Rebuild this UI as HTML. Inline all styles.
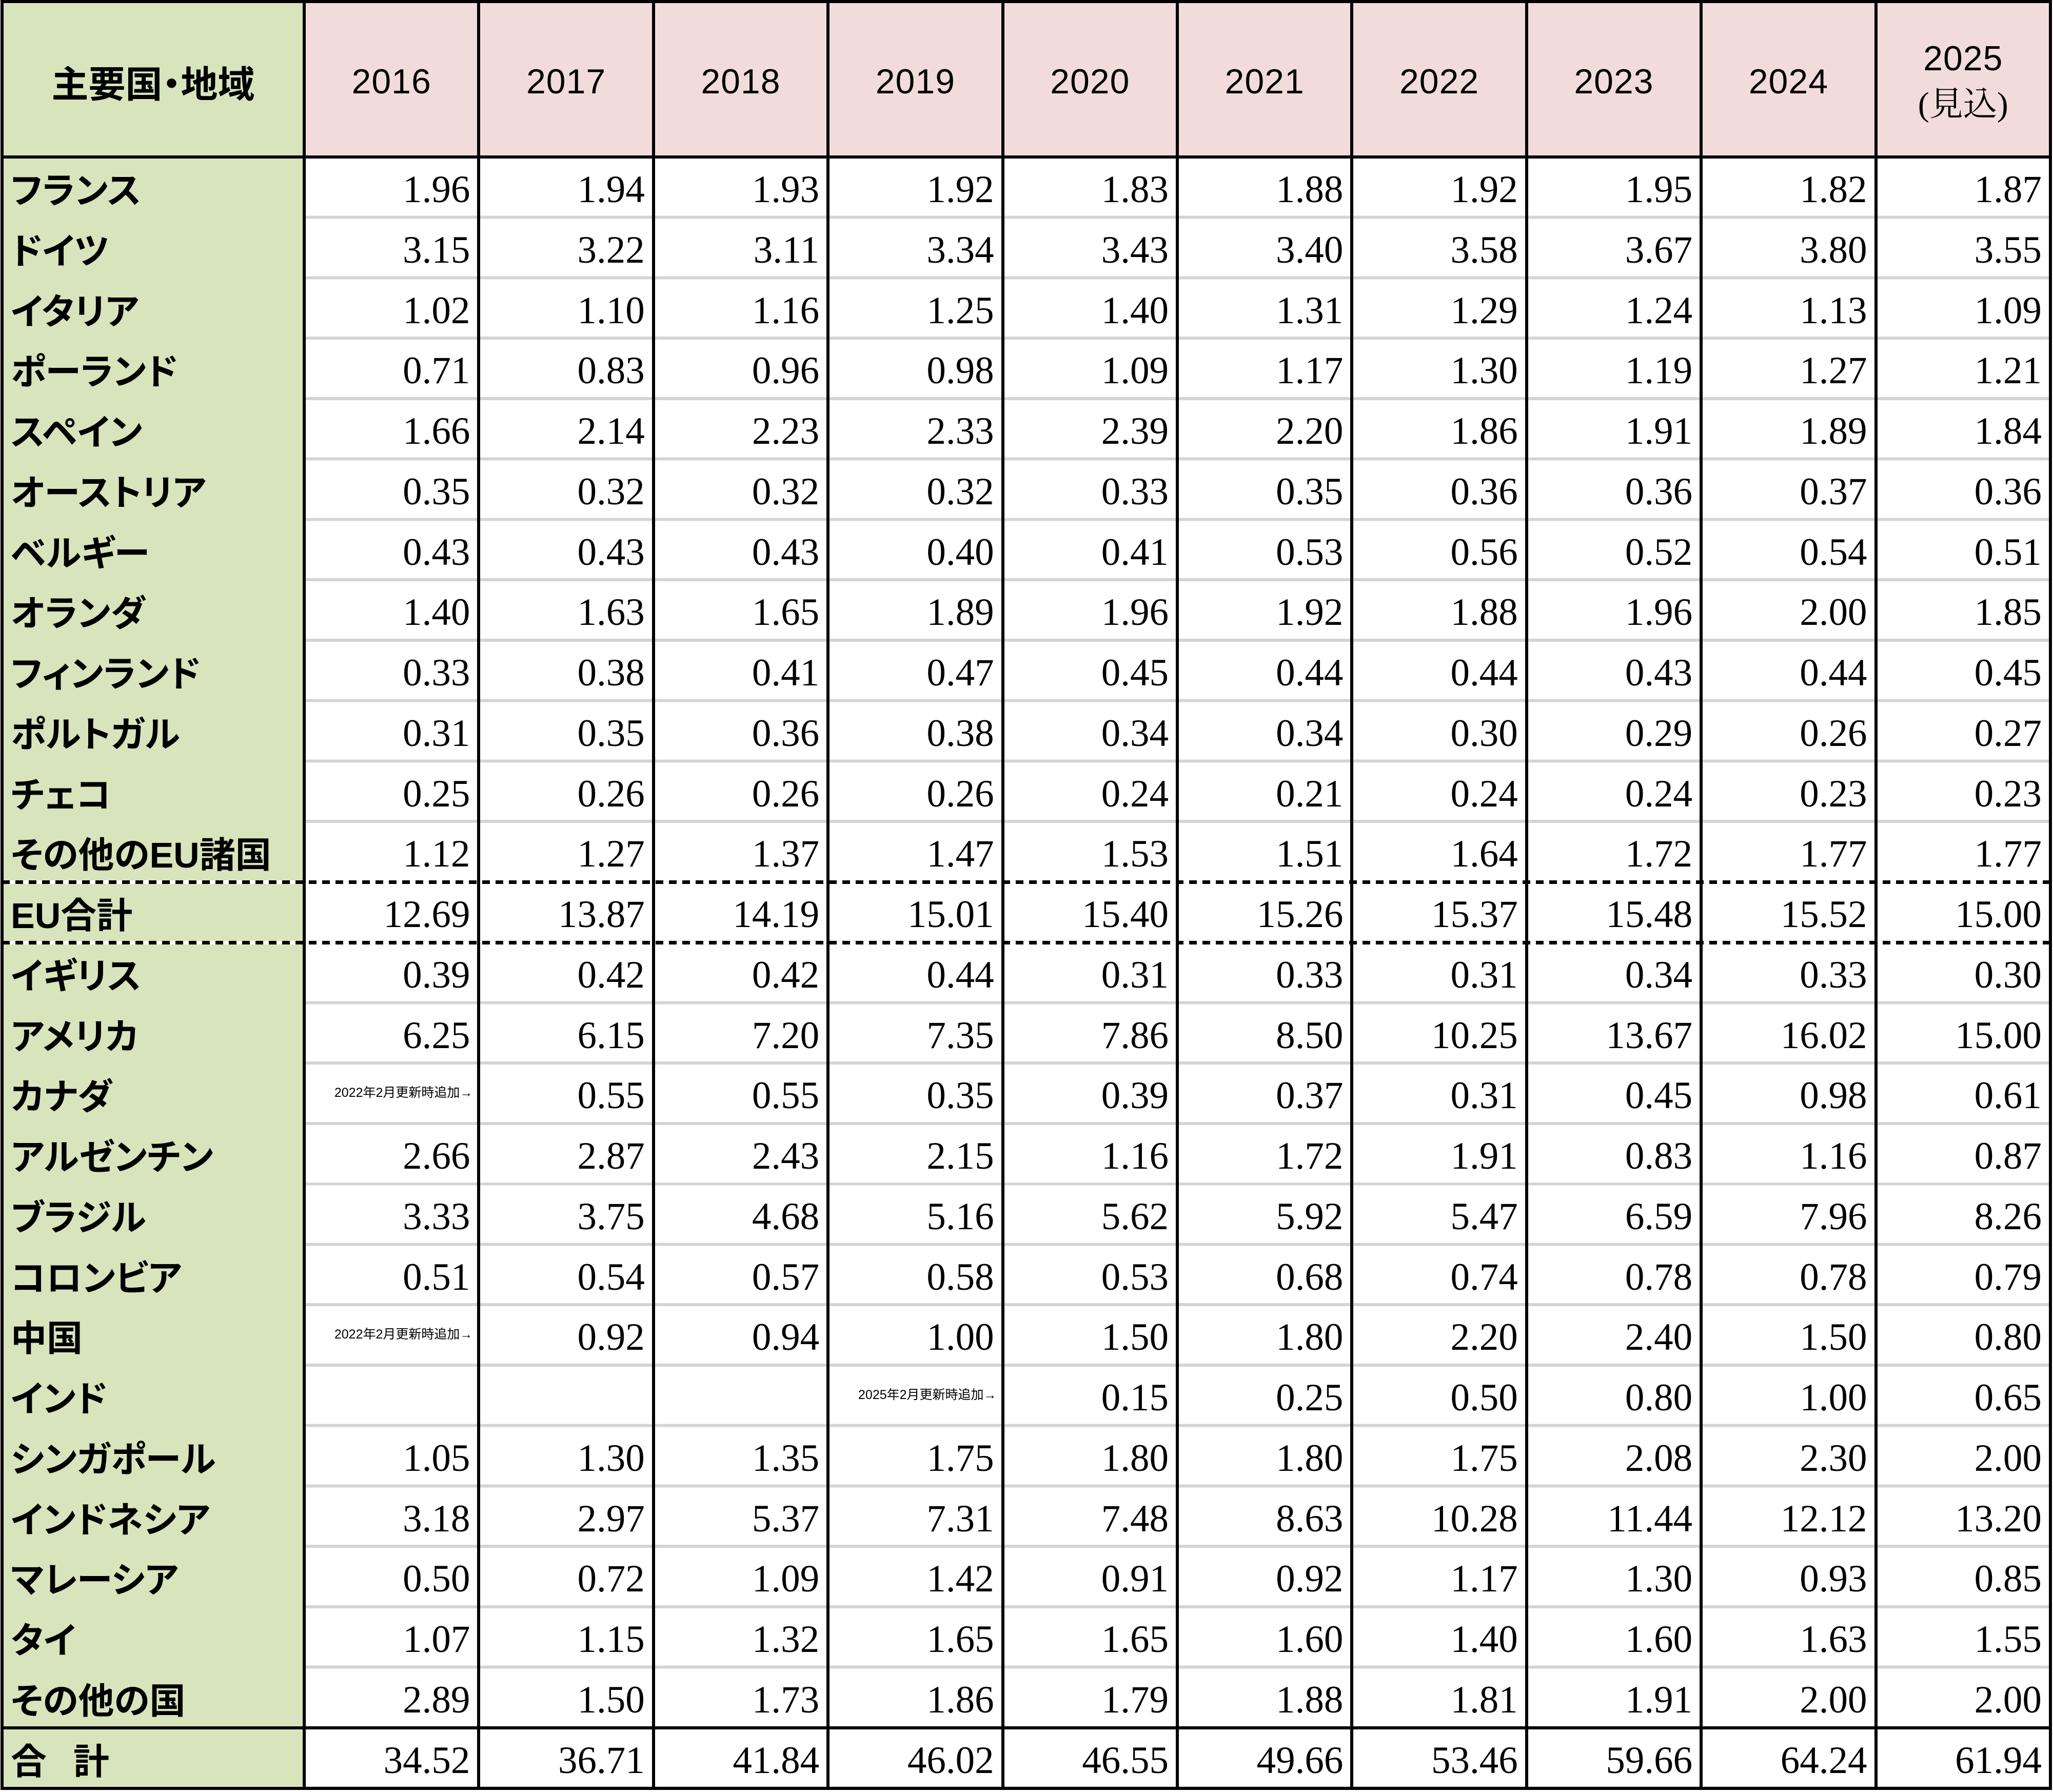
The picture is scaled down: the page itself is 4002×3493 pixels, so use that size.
<!DOCTYPE html>
<html lang="ja">
<head>
<meta charset="utf-8">
<style>
  html,body{margin:0;padding:0;}
  body{width:4002px;height:3491px;position:relative;overflow:hidden;background:#fff;}
  .abs{position:absolute;}
  .green{background:#d8e4bc;}
  .pink{background:#f2dcdb;}
  .blk{background:#000;}
  .hd{position:absolute;top:6px;height:297px;display:flex;align-items:center;justify-content:center;padding-top:8px;box-sizing:border-box;color:#000;}
  .hy{font-family:"Liberation Sans",sans-serif;font-size:68px;letter-spacing:1px;}
  .hl{font-family:"Liberation Sans","Noto Sans CJK JP",sans-serif;font-size:72px;font-weight:bold;font-feature-settings:"palt";}
  .grid{position:absolute;left:5px;top:306px;display:grid;grid-template-columns:588px repeat(10,340.4px);grid-auto-rows:117.75px;}
  .l{font-family:"Liberation Sans","Noto Sans CJK JP",sans-serif;font-weight:bold;font-size:70px;line-height:117.75px;padding-left:16px;white-space:nowrap;font-feature-settings:"palt";transform:translateY(8px);}
  .n{font-family:"Liberation Serif",serif;font-size:75px;line-height:117.75px;text-align:right;padding-right:17px;white-space:nowrap;transform:translateY(5px);}
  .nt{font-family:"Liberation Sans","Noto Sans CJK JP",sans-serif;font-size:25px;line-height:117.75px;text-align:right;padding-right:12px;white-space:nowrap;}
  .grey{position:absolute;left:596px;top:306px;width:3399px;height:3179.25px;
    background:repeating-linear-gradient(to bottom,#d4d4d4 0px,#d4d4d4 3px,transparent 3px,transparent 114.75px,#d4d4d4 114.75px,#d4d4d4 117.75px);}
  .dash{position:absolute;left:4px;width:3993px;height:7px;background:repeating-linear-gradient(to right,#000 0px,#000 15px,#fff 15px,#fff 26px);}
  .vl{position:absolute;top:1px;width:6px;height:3488px;background:#000;}
</style>
</head>
<body>
<!-- backgrounds -->
<div class="abs green" style="left:4px;top:0;width:589px;height:3489px;"></div>
<div class="abs pink" style="left:593px;top:0;width:3404px;height:306px;"></div>

<!-- grey row lines -->
<div class="grey"></div>

<!-- header text -->
<div class="hd hl" style="left:4px;width:589px;">主要国・地域</div>
<div class="hd hy" style="left:593px;width:340.4px;">2016</div>
<div class="hd hy" style="left:933.4px;width:340.4px;">2017</div>
<div class="hd hy" style="left:1273.8px;width:340.4px;">2018</div>
<div class="hd hy" style="left:1614.2px;width:340.4px;">2019</div>
<div class="hd hy" style="left:1954.6px;width:340.4px;">2020</div>
<div class="hd hy" style="left:2295px;width:340.4px;">2021</div>
<div class="hd hy" style="left:2635.4px;width:340.4px;">2022</div>
<div class="hd hy" style="left:2975.8px;width:340.4px;">2023</div>
<div class="hd hy" style="left:3316.2px;width:340.4px;">2024</div>
<div class="hd" style="left:3656.6px;width:340.4px;flex-direction:column;">
  <div class="hy" style="line-height:90px;">2025</div>
  <div style="line-height:90px;font-family:'Liberation Serif','Noto Serif CJK JP','Noto Serif CJK SC',serif;font-size:66px;">(見込)</div>
</div>

<!-- data grid -->
<div class="grid">
  <div class="l">フランス</div><div class="n">1.96</div><div class="n">1.94</div><div class="n">1.93</div><div class="n">1.92</div><div class="n">1.83</div><div class="n">1.88</div><div class="n">1.92</div><div class="n">1.95</div><div class="n">1.82</div><div class="n">1.87</div>
  <div class="l">ドイツ</div><div class="n">3.15</div><div class="n">3.22</div><div class="n">3.11</div><div class="n">3.34</div><div class="n">3.43</div><div class="n">3.40</div><div class="n">3.58</div><div class="n">3.67</div><div class="n">3.80</div><div class="n">3.55</div>
  <div class="l">イタリア</div><div class="n">1.02</div><div class="n">1.10</div><div class="n">1.16</div><div class="n">1.25</div><div class="n">1.40</div><div class="n">1.31</div><div class="n">1.29</div><div class="n">1.24</div><div class="n">1.13</div><div class="n">1.09</div>
  <div class="l">ポーランド</div><div class="n">0.71</div><div class="n">0.83</div><div class="n">0.96</div><div class="n">0.98</div><div class="n">1.09</div><div class="n">1.17</div><div class="n">1.30</div><div class="n">1.19</div><div class="n">1.27</div><div class="n">1.21</div>
  <div class="l">スペイン</div><div class="n">1.66</div><div class="n">2.14</div><div class="n">2.23</div><div class="n">2.33</div><div class="n">2.39</div><div class="n">2.20</div><div class="n">1.86</div><div class="n">1.91</div><div class="n">1.89</div><div class="n">1.84</div>
  <div class="l">オーストリア</div><div class="n">0.35</div><div class="n">0.32</div><div class="n">0.32</div><div class="n">0.32</div><div class="n">0.33</div><div class="n">0.35</div><div class="n">0.36</div><div class="n">0.36</div><div class="n">0.37</div><div class="n">0.36</div>
  <div class="l">ベルギー</div><div class="n">0.43</div><div class="n">0.43</div><div class="n">0.43</div><div class="n">0.40</div><div class="n">0.41</div><div class="n">0.53</div><div class="n">0.56</div><div class="n">0.52</div><div class="n">0.54</div><div class="n">0.51</div>
  <div class="l">オランダ</div><div class="n">1.40</div><div class="n">1.63</div><div class="n">1.65</div><div class="n">1.89</div><div class="n">1.96</div><div class="n">1.92</div><div class="n">1.88</div><div class="n">1.96</div><div class="n">2.00</div><div class="n">1.85</div>
  <div class="l">フィンランド</div><div class="n">0.33</div><div class="n">0.38</div><div class="n">0.41</div><div class="n">0.47</div><div class="n">0.45</div><div class="n">0.44</div><div class="n">0.44</div><div class="n">0.43</div><div class="n">0.44</div><div class="n">0.45</div>
  <div class="l">ポルトガル</div><div class="n">0.31</div><div class="n">0.35</div><div class="n">0.36</div><div class="n">0.38</div><div class="n">0.34</div><div class="n">0.34</div><div class="n">0.30</div><div class="n">0.29</div><div class="n">0.26</div><div class="n">0.27</div>
  <div class="l">チェコ</div><div class="n">0.25</div><div class="n">0.26</div><div class="n">0.26</div><div class="n">0.26</div><div class="n">0.24</div><div class="n">0.21</div><div class="n">0.24</div><div class="n">0.24</div><div class="n">0.23</div><div class="n">0.23</div>
  <div class="l">その他のEU諸国</div><div class="n">1.12</div><div class="n">1.27</div><div class="n">1.37</div><div class="n">1.47</div><div class="n">1.53</div><div class="n">1.51</div><div class="n">1.64</div><div class="n">1.72</div><div class="n">1.77</div><div class="n">1.77</div>
  <div class="l">EU合計</div><div class="n">12.69</div><div class="n">13.87</div><div class="n">14.19</div><div class="n">15.01</div><div class="n">15.40</div><div class="n">15.26</div><div class="n">15.37</div><div class="n">15.48</div><div class="n">15.52</div><div class="n">15.00</div>
  <div class="l">イギリス</div><div class="n">0.39</div><div class="n">0.42</div><div class="n">0.42</div><div class="n">0.44</div><div class="n">0.31</div><div class="n">0.33</div><div class="n">0.31</div><div class="n">0.34</div><div class="n">0.33</div><div class="n">0.30</div>
  <div class="l">アメリカ</div><div class="n">6.25</div><div class="n">6.15</div><div class="n">7.20</div><div class="n">7.35</div><div class="n">7.86</div><div class="n">8.50</div><div class="n">10.25</div><div class="n">13.67</div><div class="n">16.02</div><div class="n">15.00</div>
  <div class="l">カナダ</div><div class="nt">2022年2月更新時追加→</div><div class="n">0.55</div><div class="n">0.55</div><div class="n">0.35</div><div class="n">0.39</div><div class="n">0.37</div><div class="n">0.31</div><div class="n">0.45</div><div class="n">0.98</div><div class="n">0.61</div>
  <div class="l">アルゼンチン</div><div class="n">2.66</div><div class="n">2.87</div><div class="n">2.43</div><div class="n">2.15</div><div class="n">1.16</div><div class="n">1.72</div><div class="n">1.91</div><div class="n">0.83</div><div class="n">1.16</div><div class="n">0.87</div>
  <div class="l">ブラジル</div><div class="n">3.33</div><div class="n">3.75</div><div class="n">4.68</div><div class="n">5.16</div><div class="n">5.62</div><div class="n">5.92</div><div class="n">5.47</div><div class="n">6.59</div><div class="n">7.96</div><div class="n">8.26</div>
  <div class="l">コロンビア</div><div class="n">0.51</div><div class="n">0.54</div><div class="n">0.57</div><div class="n">0.58</div><div class="n">0.53</div><div class="n">0.68</div><div class="n">0.74</div><div class="n">0.78</div><div class="n">0.78</div><div class="n">0.79</div>
  <div class="l">中国</div><div class="nt">2022年2月更新時追加→</div><div class="n">0.92</div><div class="n">0.94</div><div class="n">1.00</div><div class="n">1.50</div><div class="n">1.80</div><div class="n">2.20</div><div class="n">2.40</div><div class="n">1.50</div><div class="n">0.80</div>
  <div class="l">インド</div><div class="n"></div><div class="n"></div><div class="n"></div><div class="nt">2025年2月更新時追加→</div><div class="n">0.15</div><div class="n">0.25</div><div class="n">0.50</div><div class="n">0.80</div><div class="n">1.00</div><div class="n">0.65</div>
  <div class="l">シンガポール</div><div class="n">1.05</div><div class="n">1.30</div><div class="n">1.35</div><div class="n">1.75</div><div class="n">1.80</div><div class="n">1.80</div><div class="n">1.75</div><div class="n">2.08</div><div class="n">2.30</div><div class="n">2.00</div>
  <div class="l">インドネシア</div><div class="n">3.18</div><div class="n">2.97</div><div class="n">5.37</div><div class="n">7.31</div><div class="n">7.48</div><div class="n">8.63</div><div class="n">10.28</div><div class="n">11.44</div><div class="n">12.12</div><div class="n">13.20</div>
  <div class="l">マレーシア</div><div class="n">0.50</div><div class="n">0.72</div><div class="n">1.09</div><div class="n">1.42</div><div class="n">0.91</div><div class="n">0.92</div><div class="n">1.17</div><div class="n">1.30</div><div class="n">0.93</div><div class="n">0.85</div>
  <div class="l">タイ</div><div class="n">1.07</div><div class="n">1.15</div><div class="n">1.32</div><div class="n">1.65</div><div class="n">1.65</div><div class="n">1.60</div><div class="n">1.40</div><div class="n">1.60</div><div class="n">1.63</div><div class="n">1.55</div>
  <div class="l">その他の国</div><div class="n">2.89</div><div class="n">1.50</div><div class="n">1.73</div><div class="n">1.86</div><div class="n">1.79</div><div class="n">1.88</div><div class="n">1.81</div><div class="n">1.91</div><div class="n">2.00</div><div class="n">2.00</div>
  <div class="l">合<span style="display:inline-block;width:52px;"></span>計</div><div class="n">34.52</div><div class="n">36.71</div><div class="n">41.84</div><div class="n">46.02</div><div class="n">46.55</div><div class="n">49.66</div><div class="n">53.46</div><div class="n">59.66</div><div class="n">64.24</div><div class="n">61.94</div>
</div>

<!-- horizontal special lines -->
<div class="dash" style="top:1716px;"></div>
<div class="dash" style="top:1833.5px;"></div>
<div class="abs blk" style="left:1px;top:3364.5px;width:3999px;height:6px;"></div>
<div class="abs blk" style="left:1px;top:303px;width:3999px;height:6px;"></div>
<!-- outer border -->
<div class="abs blk" style="left:1px;top:0px;width:3999px;height:6px;"></div>
<div class="abs blk" style="left:1px;top:3483px;width:3999px;height:6px;"></div>

<!-- vertical lines -->
<div class="vl" style="left:1px;"></div>
<div class="vl" style="left:590px;"></div>
<div class="vl" style="left:930.4px;"></div>
<div class="vl" style="left:1270.8px;"></div>
<div class="vl" style="left:1611.2px;"></div>
<div class="vl" style="left:1951.6px;"></div>
<div class="vl" style="left:2292px;"></div>
<div class="vl" style="left:2632.4px;"></div>
<div class="vl" style="left:2972.8px;"></div>
<div class="vl" style="left:3313.2px;"></div>
<div class="vl" style="left:3653.6px;"></div>
<div class="vl" style="left:3994px;"></div>
</body>
</html>
